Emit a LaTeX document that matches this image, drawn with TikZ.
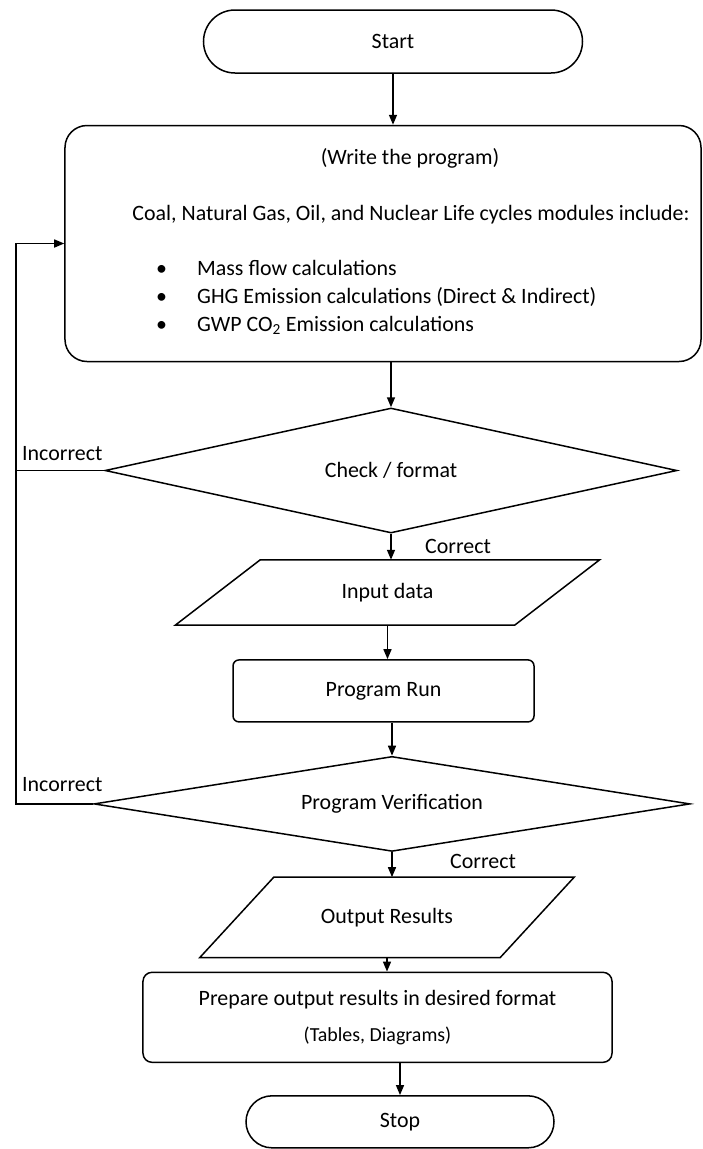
\documentclass[tikz,border=0pt]{standalone}
\usepackage{fontspec}
\setmainfont{Carlito}
\usetikzlibrary{shapes.geometric, arrows.meta, positioning}

\begin{document}
\begin{tikzpicture}[
        x=1bp, y=1bp,
        every node/.style={font=\fontsize{22}{28}\selectfont},
        term/.style={rectangle, draw, line width=1.5bp, inner sep=0pt},
        box/.style={rectangle, draw, line width=1.5bp, inner sep=0pt, align=center},
        decision/.style={diamond, draw, line width=1.5bp, inner sep=0pt},
        io/.style={rectangle, inner sep=0pt},
        lbl/.style={inner sep=0pt},
        line/.style={line width=1.5bp},
        arrow/.style={line width=1.5bp, -{Triangle[length=10bp, width=8bp]}}
        ]

        \useasboundingbox (0,0) rectangle (703,-1149);

        \node (start) [term, minimum width=379bp, minimum height=63bp, rounded corners=31.5bp] at (393,-41.5) {Start};
        \node (prog) [box, minimum width=636bp, minimum height=236bp, rounded corners=22bp, below=51bp of start, xshift=-10bp] {};

        \node (title) [lbl, anchor=base] at (410,-164) {(Write the program)};
        \node (mods) [lbl, anchor=base] at (411,-220) {Coal, Natural Gas, Oil, and Nuclear Life cycles modules include:};
        \node (m1) [lbl, anchor=base west] at (156,-275) {\makebox[41bp][l]{\textbullet}Mass flow calculations};
        \node (m2) [lbl, anchor=base west] at (156,-303) {\makebox[41bp][l]{\textbullet}GHG Emission calculations (Direct \& Indirect)};
        \node (m3) [lbl, anchor=base west] at (156,-331) {\makebox[41bp][l]{\textbullet}GWP CO\textsubscript{2} Emission calculations};

        \node (chk) [decision, aspect=4.6, minimum width=572bp, minimum height=125bp, below=45bp of prog, xshift=8bp] {Check / format};
        \node (input) [io, minimum width=424bp, minimum height=65bp, below=26bp of chk, xshift=-3.5bp] {Input data};
        \node (run) [box, minimum width=301bp, minimum height=62bp, rounded corners=6bp, below=34bp of input, xshift=-4bp] {Program Run};
        \node (ver) [decision, aspect=6.5, minimum width=596bp, minimum height=95bp, below=33bp of run, xshift=8.5bp] {Program Verification};
        \node (out) [io, minimum width=374bp, minimum height=80bp, below=25bp of ver, xshift=-5bp] {Output Results};
        \node (prep) [box, minimum width=469bp, minimum height=90bp, rounded corners=9bp, below=14bp of out, xshift=-9.5bp] {Prepare output results in desired format\\[8bp]{\fontsize{20}{24}\selectfont (Tables, Diagrams)}};
        \node (stop) [term, minimum width=308bp, minimum height=52bp, rounded corners=26bp, below=32bp of prep, xshift=22.5bp] {Stop};

        % parallelograms for the data steps
        \draw [line] ([xshift=85bp]input.north west) -- (input.north east) -- ([xshift=-85bp]input.south east) -- (input.south west) -- cycle;
        \draw [line] ([xshift=74bp]out.north west) -- (out.north east) -- ([xshift=-74bp]out.south east) -- (out.south west) -- cycle;

        \coordinate (fb) at (16,0);

        \node [lbl, anchor=west] at ([xshift=6bp, yshift=17bp]chk.west -| fb) {Incorrect};
        \node [lbl, anchor=west] at ([xshift=6bp, yshift=19bp]ver.west -| fb) {Incorrect};
        \node [lbl, anchor=west] at ([xshift=34bp, yshift=-13bp]chk.south) {Correct};
        \node [lbl, anchor=west] at ([xshift=58bp, yshift=-9bp]ver.south) {Correct};

        \draw [arrow] (start.south) -- (start.south |- prog.north);
        \draw [arrow] (prog.south -| chk.north) -- (chk.north);
        \draw [arrow] (chk.south) -- (chk.south |- input.north);
        \draw [arrow] (input.south) -- (input.south |- run.north);
        \draw [arrow] (run.south -| ver.north) -- (ver.north);
        \draw [arrow] (ver.south) -- (ver.south |- out.north);
        \draw [arrow] (out.south) -- (out.south |- prep.north);
        \draw [arrow] (prep.south -| stop.north) -- (stop.north);
        \draw [line] (ver.west) -- (ver.west -| fb) -- (chk.west -| fb);
        \draw [arrow] (chk.west) -- (chk.west -| fb) |- (prog.west);

    \end{tikzpicture}
\end{document}
